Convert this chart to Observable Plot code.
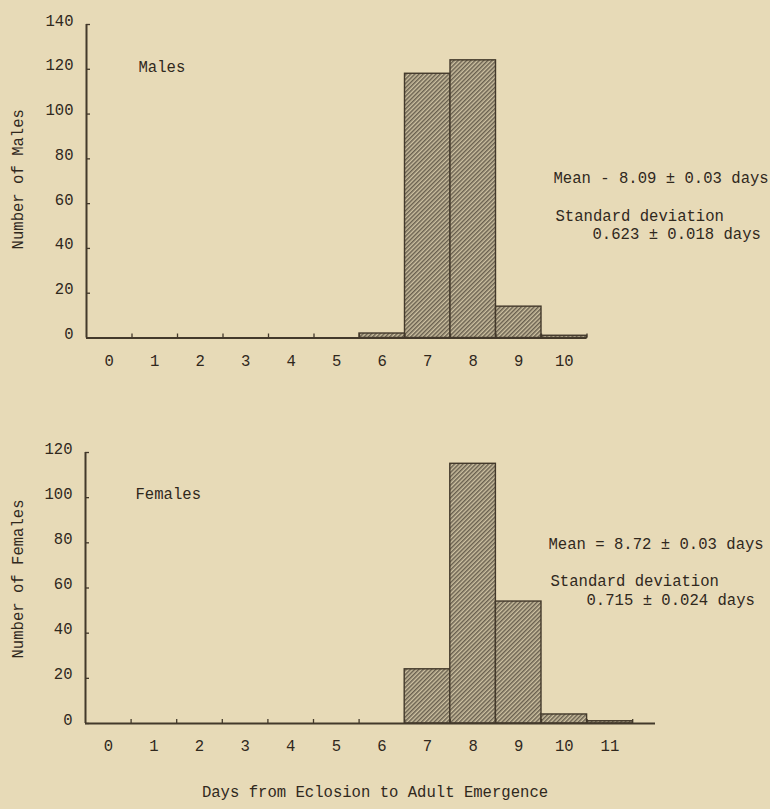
<!DOCTYPE html>
<html><head><meta charset="utf-8">
<script src="https://cdn.jsdelivr.net/npm/d3@7"></script>
<script src="https://cdn.jsdelivr.net/npm/@observablehq/plot@0.6"></script>
<style>
html,body{margin:0;padding:0;background:#e7dab7;}
#wrap{position:relative;width:770px;height:809px;background:#e7dab7;overflow:hidden;font-family:"Liberation Mono",monospace;color:#30281d;}
#top{position:absolute;left:0;top:0;}
#bottom{position:absolute;left:0;top:400px;}
#caption{position:absolute;left:0;width:750px;top:784px;text-align:center;font-size:15.6px;line-height:18px;}
</style></head><body>
<div id="wrap"><div id="top"></div><div id="bottom"></div><div id="caption">Days from Eclosion to Adult Emergence</div></div>
<script>
// ---- data ----
const maleDays = [0,1,2,3,4,5,6,7,8,9,10];
const maleCounts = [0,0,0,0,0,0,2,118,124,14,1];
const femaleDays = [0,1,2,3,4,5,6,7,8,9,10,11];
const femaleCounts = [0,0,0,0,0,0,0,24,115,54,4,1];
const maleYTicks = [0,20,40,60,80,100,120,140];
const femaleYTicks = [0,20,40,60,80,100,120];
const maleNotes = ["Males","Mean - 8.09 \u00b1 0.03 days","Standard deviation","0.623 \u00b1 0.018 days"];
const femaleNotes = ["Females","Mean = 8.72 \u00b1 0.03 days","Standard deviation","0.715 \u00b1 0.024 days"];

const INK = "#30281d";
const LINE = "#43392b";

function hatchDefs(id) {
  return () => {
    const defs = d3.create("svg:defs");
    const p = defs.append("pattern").attr("id", id)
      .attr("patternUnits","userSpaceOnUse").attr("width",3).attr("height",3)
      .attr("patternTransform","rotate(45)");
    p.append("rect").attr("width",3).attr("height",3).attr("fill","#cdc1a1");
    p.append("line").attr("x1",0.8).attr("y1",0).attr("x2",0.8).attr("y2",3)
      .attr("stroke","#50473a").attr("stroke-width",1.2);
    return defs.node();
  };
}

function histogram({days, counts, yTicks, yMax, xAxisEnd, notes, noteOffsets, yLabel, hatchId,
                   height, marginTop, marginBottom, marginLeft, marginRight, labelDy, yLabelDy}) {
  const data = days.map((d, i) => ({day: d, count: counts[i]}));
  const edges = days.slice(1).concat([days[days.length - 1] + 1]);
  const pxPerUnitY = (height - marginTop - marginBottom) / yMax;
  const pxPerUnitX = (770 - marginLeft - marginRight) / 15;
  return Plot.plot({
    width: 770, height, marginTop, marginBottom, marginLeft, marginRight,
    style: {background: "transparent", fontFamily: "'Liberation Mono', monospace", fontSize: "15.6px", color: INK},
    x: {domain: [0, 15], axis: null},
    y: {domain: [0, yMax], axis: null},
    marks: [
      hatchDefs(hatchId),
      // bars
      Plot.rectY(data.filter(d => d.count > 0), {
        x1: "day", x2: d => d.day + 1, y: "count",
        fill: `url(#${hatchId})`, stroke: LINE, strokeWidth: 1.4
      }),
      // x axis line & ticks
      Plot.ruleY([0], {x1: 0, x2: xAxisEnd, stroke: LINE, strokeWidth: 2}),
      Plot.ruleX(edges, {y1: 0, y2: 4 / pxPerUnitY, stroke: LINE, strokeWidth: 1.3}),
      // y axis line & ticks
      Plot.ruleX([0], {y1: 0, y2: yMax, stroke: LINE, strokeWidth: 2}),
      Plot.ruleY(yTicks, {x1: 0, x2: 4 / pxPerUnitX, stroke: LINE, strokeWidth: 1.3}),
      // tick labels
      Plot.text(yTicks, {x: 0, y: d => d, text: d => String(d), textAnchor: "end", dx: -13, dy: -4, fill: INK}),
      Plot.text(days, {x: d => d + 0.5, y: 0, text: d => String(d), dy: labelDy, fill: INK}),
      // y label
      Plot.text([yLabel], {frameAnchor: "left", textAnchor: "middle", rotate: -90, dx: 17 - marginLeft, dy: yLabelDy, fill: INK}),
      // annotations
      ...notes.map((t, i) => Plot.text([t], {
        frameAnchor: "top-left", textAnchor: "start", lineAnchor: "middle",
        dx: noteOffsets[i][0], dy: noteOffsets[i][1], fill: INK
      }))
    ]
  });
}

document.getElementById("top").append(histogram({
  days: maleDays, counts: maleCounts, yTicks: maleYTicks, yMax: 140, xAxisEnd: 11,
  notes: maleNotes, noteOffsets: [[52, 42], [467, 153], [469, 191], [506, 209]],
  yLabel: "Number of Males", hatchId: "hatchM",
  height: 375, marginTop: 24, marginBottom: 37.5, marginLeft: 86, marginRight: 1.5,
  labelDy: 23, yLabelDy: -2
}));

document.getElementById("bottom").append(histogram({
  days: femaleDays, counts: femaleCounts, yTicks: femaleYTicks, yMax: 120, xAxisEnd: 12.5,
  notes: femaleNotes, noteOffsets: [[50, 41], [463, 91], [465, 128], [501, 147]],
  yLabel: "Number of Females", hatchId: "hatchF",
  height: 370, marginTop: 52, marginBottom: 47, marginLeft: 85, marginRight: 1,
  labelDy: 22, yLabelDy: -9
}));
</script>
</body></html>
